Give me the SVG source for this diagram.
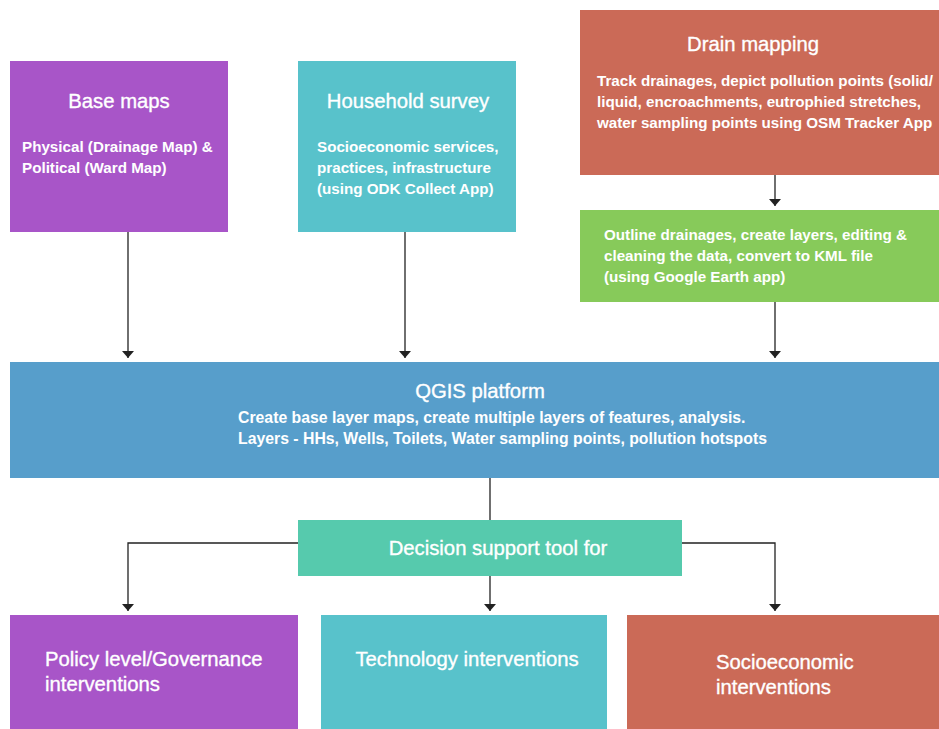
<svg xmlns="http://www.w3.org/2000/svg" width="939" height="729" viewBox="0 0 939 729">
<defs>
<style>
.t{font-family:"Liberation Sans",Arial,sans-serif;font-size:20.3px;fill:#fff;stroke:#fff;stroke-width:0.35;text-anchor:middle}
.b{font-family:"Liberation Sans",Arial,sans-serif;font-size:15.2px;font-weight:bold;fill:#fff}
.q{font-size:15.8px}
.c{stroke:#222;stroke-width:1.3;fill:none}
</style>
<marker id="ah" viewBox="0 0 7 12" refX="7" refY="6" markerWidth="7" markerHeight="12" markerUnits="userSpaceOnUse" orient="auto">
<path d="M0,0 L7,6 L0,12 Z" fill="#222"/>
</marker>
</defs>
<rect width="939" height="729" fill="#fff"/>
<g id="connectors">
<path class="c" d="M128,232 V358" marker-end="url(#ah)"/>
<path class="c" d="M405,232 V358" marker-end="url(#ah)"/>
<path class="c" d="M775,175 V206" marker-end="url(#ah)"/>
<path class="c" d="M775,302 V358" marker-end="url(#ah)"/>
<path class="c" d="M490,478 V520"/>
<path class="c" d="M298,543 H128 V611" marker-end="url(#ah)"/>
<path class="c" d="M490,576 V611" marker-end="url(#ah)"/>
<path class="c" d="M682,543 H775 V611" marker-end="url(#ah)"/>
</g>
<g id="base-maps">
<rect x="10" y="61" width="218" height="171" fill="#A855C8"/>
<text class="t" x="119" y="108">Base maps</text>
<text class="b" x="22" y="152">Physical (Drainage Map) &amp;</text>
<text class="b" x="22" y="173">Political (Ward Map)</text>
</g>
<g id="household-survey">
<rect x="298" y="61" width="218" height="171" fill="#58C2CB"/>
<text class="t" x="408" y="108">Household survey</text>
<text class="b" x="317" y="152">Socioeconomic services,</text>
<text class="b" x="317" y="173">practices, infrastructure</text>
<text class="b" x="317" y="194">(using ODK Collect App)</text>
</g>
<g id="drain-mapping">
<rect x="580" y="10" width="359" height="165" fill="#CB6A57"/>
<text class="t" x="753" y="51">Drain mapping</text>
<text class="b" x="597" y="86">Track drainages, depict pollution points (solid/</text>
<text class="b" x="597" y="107">liquid, encroachments, eutrophied stretches,</text>
<text class="b" x="597" y="128">water sampling points using OSM Tracker App</text>
</g>
<g id="google-earth">
<rect x="580" y="210" width="359" height="92" fill="#87CA5A"/>
<text class="b" x="604" y="240">Outline drainages, create layers, editing &amp;</text>
<text class="b" x="604" y="261">cleaning the data, convert to KML file</text>
<text class="b" x="604" y="282">(using Google Earth app)</text>
</g>
<g id="qgis-platform">
<rect x="10" y="362" width="929" height="116" fill="#579ECB"/>
<text class="t" x="480" y="398">QGIS platform</text>
<text class="b q" x="238" y="423">Create base layer maps, create multiple layers of features, analysis.</text>
<text class="b q" x="238" y="444">Layers - HHs, Wells, Toilets, Water sampling points, pollution hotspots</text>
</g>
<g id="decision-support">
<rect x="298" y="520" width="384" height="56" fill="#56CAAD"/>
<text class="t" x="498" y="555">Decision support tool for</text>
</g>
<g id="policy">
<rect x="10" y="615" width="288" height="114" fill="#A855C8"/>
<text class="t" x="45" y="666" style="text-anchor:start">Policy level/Governance</text>
<text class="t" x="45" y="691" style="text-anchor:start">interventions</text>
</g>
<g id="technology">
<rect x="321" y="615" width="286" height="114" fill="#58C2CB"/>
<text class="t" x="467" y="666">Technology interventions</text>
</g>
<g id="socioeconomic">
<rect x="627" y="615" width="312" height="114" fill="#CB6A57"/>
<text class="t" x="716" y="669" style="text-anchor:start">Socioeconomic</text>
<text class="t" x="716" y="694" style="text-anchor:start">interventions</text>
</g>
</svg>
